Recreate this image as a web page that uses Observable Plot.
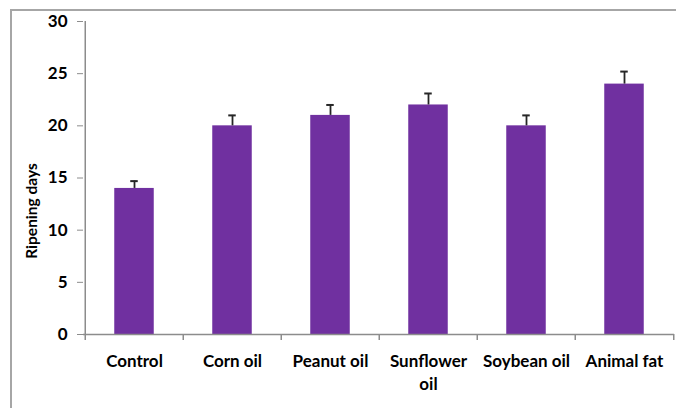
<!DOCTYPE html>
<html><head><meta charset="utf-8">
<script src="https://cdn.jsdelivr.net/npm/d3@7"></script>
<script src="https://cdn.jsdelivr.net/npm/@observablehq/plot@0.6"></script>
<style>
html,body{margin:0;padding:0;background:#fff;}
#wrap{position:relative;width:676px;height:408px;overflow:hidden;background:#fff;}
#frame{position:absolute;left:10px;top:9px;width:720px;height:440px;border-top:2px solid #a6a6a6;border-left:2px solid #a6a6a6;}
#chart{position:absolute;left:0;top:0;}
</style></head><body>
<div id="wrap"><div id="frame"></div><div id="chart"></div></div>
<script>
const categories = ["Control", "Corn oil", "Peanut oil", "Sunflower\noil", "Soybean oil", "Animal fat"];
const ripeningDays = [14, 20, 21, 22, 20, 24];
const errorTop = [14.7, 21.0, 22.0, 23.1, 21.0, 25.2];
const yTicks = [0, 5, 10, 15, 20, 25, 30];
const yLabel = "Ripening days";

const data = categories.map((c, i) => ({category: c, value: ripeningDays[i], top: errorTop[i]}));

const W = 676, H = 408;
const mL = 83, mR = 2, mT = 21, mB = 74;
const step = (W - mL - mR) / categories.length;
const barW = 40, capW = 8;
const axisColor = "#8c8c8c";
const font = "Lato, 'Open Sans', sans-serif";

const chart = Plot.plot({
  width: W, height: H,
  marginLeft: mL, marginRight: mR, marginTop: mT, marginBottom: mB,
  style: {fontFamily: font, background: "transparent", color: "#000"},
  x: {domain: categories, padding: 0},
  y: {domain: [0, 30]},
  marks: [
    Plot.barY(data, {x: "category", y: "value", fill: "#7030A0", insetLeft: (step - barW) / 2, insetRight: (step - barW) / 2}),
    Plot.ruleX(data, {x: "category", y1: "value", y2: "top", stroke: "#262626", strokeWidth: 1.8}),
    Plot.tickY(data, {x: "category", y: "top", stroke: "#262626", strokeWidth: 2, insetLeft: (step - capW) / 2, insetRight: (step - capW) / 2}),
    Plot.ruleY([0], {stroke: axisColor, strokeWidth: 1.5}),
    Plot.ruleX([categories[0]], {x: d => d, y1: 0, y2: 30, dx: -step / 2, stroke: axisColor, strokeWidth: 1.5}),
    Plot.ruleX(categories, {x: d => d, y1: 0, y2: 0, insetBottom: -6, dx: -step / 2, stroke: axisColor, strokeWidth: 1.5}),
    Plot.ruleX([categories[categories.length - 1]], {x: d => d, y1: 0, y2: 0, insetBottom: -6, dx: step / 2, stroke: axisColor, strokeWidth: 1.5}),
    Plot.axisY({ticks: yTicks, tickSize: 6, tickPadding: 10, stroke: axisColor, fontSize: 17, fontWeight: "bold", label: null}),
    Plot.axisX({tickSize: 0, tickPadding: 16, fontSize: 17, fontWeight: "bold", lineHeight: 1.35, label: null}),
    Plot.text([yLabel], {frameAnchor: "left", text: d => d, rotate: -90, textAnchor: "middle", dx: -51, dy: 33, fontSize: 15.5, fontWeight: "bold", fill: "#000"})
  ]
});
document.getElementById("chart").appendChild(chart);
</script>
</body></html>
